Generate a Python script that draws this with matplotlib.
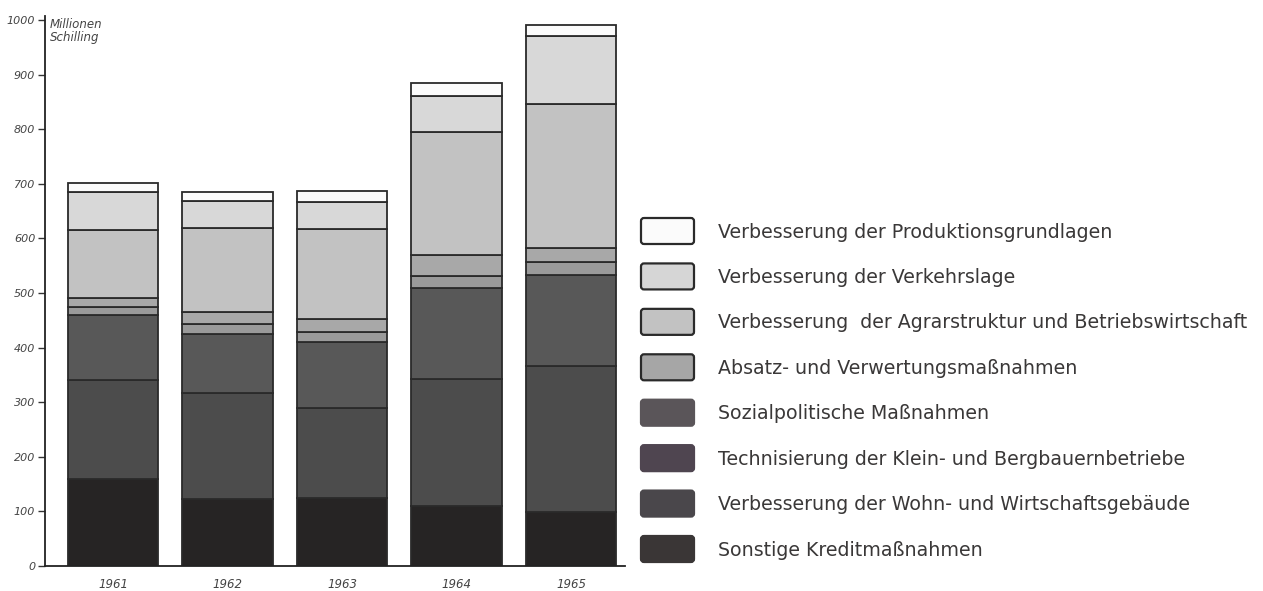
import numpy as np
import matplotlib
matplotlib.use("Agg")
import matplotlib.pyplot as plt
from matplotlib.patches import FancyBboxPatch

# years on the x axis
years = ["1961", "1962", "1963", "1964", "1965"]

# series, bottom to top (Millionen Schilling)
sonstige_kredit = [160, 122, 124, 109, 98]
wohn_wirtschaft = [181, 194, 166, 233, 268]
technisierung = [119, 109, 120, 167, 167]
sozialpolitisch = [14, 19, 19, 22, 24]
absatz_verwertung = [17, 21, 23, 39, 26]
agrarstruktur = [124, 154, 166, 224, 263]
verkehrslage = [70, 49, 48, 66, 125]
produktion = [17, 17, 21, 25, 20]

series = [sonstige_kredit, wohn_wirtschaft, technisierung, sozialpolitisch,
          absatz_verwertung, agrarstruktur, verkehrslage, produktion]

# legend labels, top to bottom as in the picture
legend_labels = [
    "Verbesserung der Produktionsgrundlagen",
    "Verbesserung der Verkehrslage",
    "Verbesserung  der Agrarstruktur und Betriebswirtschaft",
    "Absatz- und Verwertungsmaßnahmen",
    "Sozialpolitische Maßnahmen",
    "Technisierung der Klein- und Bergbauernbetriebe",
    "Verbesserung der Wohn- und Wirtschaftsgebäude",
    "Sonstige Kreditmaßnahmen",
]

bar_colors = ["#262424", "#4c4c4c", "#585858", "#9a9a9a",
              "#a8a8a8", "#c2c2c2", "#d8d8d8", "#fbfbfb"]
legend_colors = ["#fbfbfb", "#d6d6d6", "#c2c2c2", "#a6a6a6",
                 "#5a5559", "#4f4550", "#4a474b", "#3a3636"]
edge = "#2a2a2a"

fig = plt.figure(figsize=(12.63, 5.91), dpi=100)
ax = fig.add_axes([45 / 1263, 25 / 591, 580 / 1263, 550.4 / 591])

x = np.arange(len(years))
bottom = np.zeros(len(years))
for vals, col in zip(series, bar_colors):
    ax.bar(x, vals, width=0.79, bottom=bottom, color=col,
           edgecolor=edge, linewidth=1.3)
    bottom += np.array(vals)

ax.set_xlim(-0.594, 4.47)
ax.set_ylim(0, 1008)
ax.set_yticks(range(0, 1001, 100))
ax.set_yticklabels([str(v) for v in range(0, 1001, 100)],
                   fontsize=8, style="italic", color="#444444")
ax.set_xticks(x)
ax.set_xticklabels(years, fontsize=8.5, style="italic", color="#444444")
ax.tick_params(axis="x", length=0, pad=9)
ax.tick_params(axis="y", length=5, width=1, direction="out", pad=2, color="#333333")
for s in ["top", "right"]:
    ax.spines[s].set_visible(False)
for s in ["left", "bottom"]:
    ax.spines[s].set_color("#222222")
    ax.spines[s].set_linewidth(1.3)

ax.text(-0.55, 1003, "Millionen\nSchilling", fontsize=8.5, style="italic",
        color="#444444", va="top", ha="left", linespacing=1.0)

# legend drawn in pixel coordinates
lax = fig.add_axes([0, 0, 1, 1])
lax.set_xlim(0, 1263)
lax.set_ylim(591, 0)
lax.axis("off")
row_y = np.linspace(231, 549, len(legend_labels))
for i, (lab, col) in enumerate(zip(legend_labels, legend_colors)):
    yc = row_y[i]
    ec = edge if i < 4 else col
    box = FancyBboxPatch((641, yc - 13), 53, 26,
                         boxstyle="round,pad=0,rounding_size=3",
                         facecolor=col, edgecolor=ec, linewidth=1.6)
    lax.add_patch(box)
    lax.text(718, yc + 1, lab, fontsize=13.7, family="DejaVu Sans",
             color="#3a3838", va="center", ha="left")

fig.savefig("out.png", dpi=100)
